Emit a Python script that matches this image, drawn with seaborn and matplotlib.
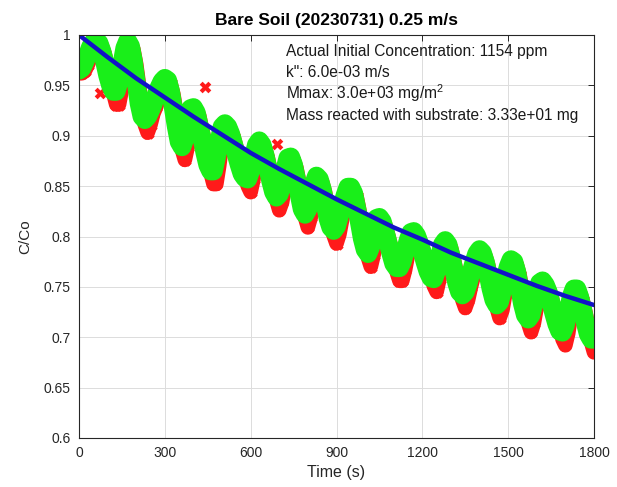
import numpy as np
import pandas as pd
import matplotlib
matplotlib.use("Agg")
import matplotlib.pyplot as plt
from matplotlib.ticker import FormatStrFormatter, MultipleLocator
import seaborn as sns

# ---------------- data ----------------
time_s = list(range(0, 1801, 10))

green_c = [
    0.965, 0.967, 0.973, 0.980, 0.988, 0.993, 0.995, 0.992, 0.984, 0.973,
    0.960, 0.950, 0.944, 0.944, 0.954, 0.971, 0.987, 0.994, 0.989, 0.974,
    0.953, 0.932, 0.919, 0.916, 0.919, 0.925, 0.932, 0.941, 0.948, 0.954,
    0.957, 0.955, 0.944, 0.927, 0.909, 0.894, 0.889, 0.897, 0.913, 0.927,
    0.928, 0.923, 0.910, 0.897, 0.883, 0.871, 0.865, 0.865, 0.878, 0.895,
    0.909, 0.912, 0.909, 0.902, 0.892, 0.881, 0.871, 0.862, 0.858, 0.857,
    0.865, 0.879, 0.891, 0.895, 0.891, 0.881, 0.868, 0.855, 0.844, 0.839,
    0.842, 0.853, 0.867, 0.878, 0.879, 0.871, 0.857, 0.841, 0.827, 0.822,
    0.827, 0.840, 0.852, 0.860, 0.857, 0.847, 0.833, 0.818, 0.809, 0.806,
    0.810, 0.820, 0.831, 0.841, 0.849, 0.849, 0.843, 0.829, 0.814, 0.798,
    0.787, 0.783, 0.790, 0.806, 0.818, 0.819, 0.815, 0.805, 0.794, 0.783,
    0.773, 0.769, 0.769, 0.775, 0.785, 0.796, 0.804, 0.805, 0.801, 0.793,
    0.784, 0.774, 0.765, 0.759, 0.758, 0.766, 0.780, 0.792, 0.796, 0.792,
    0.781, 0.767, 0.754, 0.745, 0.742, 0.745, 0.753, 0.764, 0.774, 0.783,
    0.787, 0.784, 0.775, 0.762, 0.748, 0.737, 0.732, 0.735, 0.746, 0.759,
    0.770, 0.777, 0.775, 0.765, 0.749, 0.733, 0.722, 0.718, 0.722, 0.733,
    0.745, 0.754, 0.756, 0.752, 0.745, 0.734, 0.723, 0.713, 0.706, 0.705,
    0.712, 0.726, 0.740, 0.748, 0.748, 0.740, 0.728, 0.714, 0.703, 0.698,
    0.698,
]

red_c = [
    0.962, 0.962, 0.964, 0.970, 0.977, 0.985, 0.990, 0.992, 0.989, 0.981,
    0.970, 0.957, 0.942, 0.931, 0.931, 0.946, 0.968, 0.984, 0.991, 0.986,
    0.971, 0.950, 0.929, 0.911, 0.903, 0.911, 0.922, 0.929, 0.938, 0.945,
    0.951, 0.954, 0.952, 0.941, 0.924, 0.906, 0.886, 0.876, 0.889, 0.910,
    0.924, 0.925, 0.920, 0.907, 0.894, 0.880, 0.863, 0.852, 0.852, 0.870,
    0.892, 0.906, 0.909, 0.906, 0.899, 0.889, 0.878, 0.868, 0.859, 0.850,
    0.844, 0.857, 0.876, 0.888, 0.892, 0.888, 0.878, 0.865, 0.852, 0.836,
    0.826, 0.834, 0.850, 0.864, 0.875, 0.876, 0.868, 0.854, 0.838, 0.819,
    0.809, 0.819, 0.837, 0.849, 0.857, 0.854, 0.844, 0.830, 0.815, 0.801,
    0.793, 0.802, 0.817, 0.828, 0.838, 0.846, 0.846, 0.840, 0.826, 0.811,
    0.795, 0.779, 0.770, 0.782, 0.803, 0.815, 0.816, 0.812, 0.802, 0.791,
    0.780, 0.765, 0.756, 0.756, 0.767, 0.782, 0.793, 0.801, 0.802, 0.798,
    0.790, 0.781, 0.771, 0.762, 0.751, 0.745, 0.758, 0.777, 0.789, 0.793,
    0.789, 0.778, 0.764, 0.751, 0.737, 0.729, 0.737, 0.750, 0.761, 0.771,
    0.780, 0.784, 0.781, 0.772, 0.759, 0.745, 0.729, 0.719, 0.727, 0.743,
    0.756, 0.767, 0.774, 0.772, 0.762, 0.746, 0.730, 0.714, 0.705, 0.714,
    0.730, 0.742, 0.751, 0.753, 0.749, 0.742, 0.731, 0.720, 0.710, 0.698,
    0.692, 0.704, 0.723, 0.737, 0.745, 0.745, 0.737, 0.725, 0.711, 0.695,
    0.685,
]

red_out_t = [73, 440, 692]
red_out_c = [0.942, 0.948, 0.892]

fit_t = list(range(0, 1801, 100))
fit_c = [1.000, 0.978, 0.957, 0.938, 0.919, 0.901, 0.883, 0.867, 0.852, 0.837,
         0.823, 0.809, 0.797, 0.784, 0.773, 0.762, 0.751, 0.741, 0.732]

xticks = [0, 300, 600, 900, 1200, 1500, 1800]
title = "Bare Soil (20230731) 0.25 m/s"
notes = ["Actual Initial Concentration: 1154 ppm",
         "k\": 6.0e-03 m/s",
         "Mmax: 3.0e+03 mg/m$^{2}$",
         "Mass reacted with substrate: 3.33e+01 mg"]

# ---------------- styling ----------------
sns.set_style("white")
plt.rcParams["font.family"] = ["Liberation Sans", "DejaVu Sans"]
plt.rcParams["mathtext.fontset"] = "custom"
plt.rcParams["mathtext.rm"] = "Liberation Sans"

df_g = pd.DataFrame({"t": time_s, "c": green_c})
df_r = pd.DataFrame({"t": time_s, "c": red_c})
df_ro = pd.DataFrame({"t": red_out_t, "c": red_out_c})
df_f = pd.DataFrame({"t": fit_t, "c": fit_c})

fig = plt.figure(figsize=(6.17, 4.87), dpi=100)
ax = fig.add_axes([79 / 617, 1 - 438 / 487, 515 / 617, 403 / 487])

RED = "#ff1a1a"
GREEN = "#19ef19"
BLUE = "#1212c8"

# red band (drawn first, partly hidden by green)
sns.lineplot(data=df_r, x="t", y="c", ax=ax, color=RED, linewidth=10.5,
             estimator=None, sort=False, solid_capstyle="round",
             solid_joinstyle="round", zorder=2)
sns.scatterplot(data=df_r, x="t", y="c", ax=ax, marker="X", color=RED,
                s=80, linewidth=0, zorder=2)
sns.scatterplot(data=df_ro, x="t", y="c", ax=ax, marker="X", color=RED,
                s=70, linewidth=0, zorder=2)
# green band
sns.lineplot(data=df_g, x="t", y="c", ax=ax, color=GREEN, linewidth=13.5,
             estimator=None, sort=False, solid_capstyle="round",
             solid_joinstyle="round", zorder=3)
sns.scatterplot(data=df_g, x="t", y="c", ax=ax, marker="o",
                facecolor="none", edgecolor=GREEN, s=100, linewidth=2.2,
                zorder=3)
# fitted curve
sns.lineplot(data=df_f, x="t", y="c", ax=ax, color=BLUE, linewidth=3.2,
             estimator=None, sort=False, zorder=4)

ax.set_xlim(0, 1800)
ax.set_ylim(0.6, 1.0)
ax.set_xticks(xticks)
ax.yaxis.set_major_locator(MultipleLocator(0.05))
ax.yaxis.set_major_formatter(FormatStrFormatter("%g"))
ax.grid(True, color="#dcdcdc", linewidth=0.7)
ax.set_axisbelow(True)
for s in ax.spines.values():
    s.set_color("#262626")
    s.set_linewidth(0.8)
    s.set_zorder(6)
ax.tick_params(direction="in", length=4, width=0.7, color="#262626",
               labelsize=10, labelcolor="#262626", top=True, right=True,
               pad=6)
ax.set_xlabel("Time (s)", fontsize=11.5, color="#262626", labelpad=3)
ax.set_ylabel("C/Co", fontsize=11, color="#262626", labelpad=8)
ax.set_title(title, fontsize=12.5, fontweight="bold", color="black", pad=7)

note_y = [0.958, 0.908, 0.856, 0.801]
for txt, yy in zip(notes, note_y):
    ax.text(0.402, yy, txt, transform=ax.transAxes, fontsize=11.2,
            color="#1a1a1a", va="center", ha="left", zorder=7)

fig.savefig("out.png", dpi=100)
